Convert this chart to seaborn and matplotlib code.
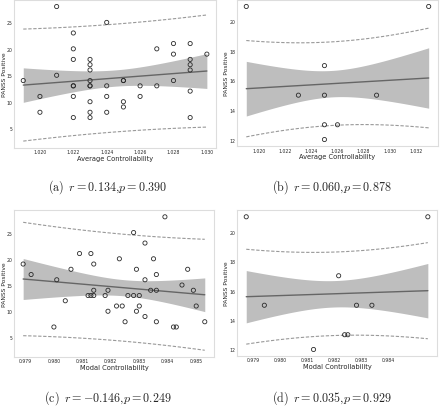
import numpy as np
import pandas as pd
import matplotlib
matplotlib.use("Agg")
import matplotlib.pyplot as plt
import seaborn as sns

# --- data ---
avg_ctrl_all = [1.019,
                1.020, 1.020,
                1.021, 1.021,
                1.022, 1.022, 1.022, 1.022, 1.022, 1.022, 1.022,
                1.023, 1.023, 1.023, 1.023, 1.023, 1.023, 1.023, 1.023, 1.023,
                1.024, 1.024, 1.024, 1.024,
                1.025, 1.025, 1.025, 1.025,
                1.026, 1.026,
                1.027, 1.027,
                1.028, 1.028, 1.028,
                1.029, 1.029, 1.029, 1.029, 1.029, 1.029,
                1.030]
panss_avg_all = [14,
                 11, 8,
                 28, 15,
                 23, 20, 18, 13, 13, 11, 7,
                 18, 17, 16, 14, 13, 13, 10, 8, 7,
                 25, 13, 11, 8,
                 14, 14, 10, 9,
                 13, 11,
                 20, 13,
                 21, 19, 14,
                 21, 18, 17, 16, 12, 7,
                 19]

avg_ctrl_sub = [1.019, 1.033, 1.023, 1.025, 1.025, 1.025, 1.025, 1.026, 1.029]
panss_avg_sub = [21, 21, 15, 17, 15, 13, 12, 13, 15]

modal_ctrl_all = [0.97892, 0.9792, 0.9800, 0.9801, 0.9804, 0.9806, 0.9809,
                  0.9812, 0.9813, 0.9814, 0.9813, 0.9814, 0.9814, 0.9818,
                  0.9819, 0.9819, 0.9822, 0.9823, 0.9824, 0.9825, 0.9826,
                  0.9828, 0.9828, 0.9829, 0.9829, 0.9830, 0.9830, 0.9832,
                  0.9832, 0.9832, 0.9834, 0.9835, 0.9836, 0.9836, 0.9836,
                  0.9839, 0.9842, 0.9843, 0.9845, 0.9847, 0.9849, 0.9850,
                  0.9853]
panss_modal_all = [19, 17, 7, 16, 12, 18, 21,
                   13, 13, 13, 21, 19, 14, 13,
                   14, 10, 11, 20, 11, 8, 13,
                   25, 13, 18, 10, 11, 13, 23,
                   16, 9, 14, 20, 17, 14, 8,
                   28, 7, 7, 15, 18, 14, 11,
                   8]

modal_ctrl_sub = [0.97873, 0.98545, 0.9794, 0.98215, 0.98281, 0.98338,
                  0.98122, 0.98237, 0.98249]
panss_modal_sub = [21, 21, 15, 17, 15, 15, 12, 13, 13]

captions = [r"$\mathrm{(a)}\ \,r = 0.134{,}p = 0.390$",
            r"$\mathrm{(b)}\ \,r = 0.060{,}p = 0.878$",
            r"$\mathrm{(c)}\ \,r = -0.146{,}p = 0.249$",
            r"$\mathrm{(d)}\ \,r = 0.035{,}p = 0.929$"]
xlabels = ["Average Controllability", "Average Controllability",
           "Modal Controllability", "Modal Controllability"]
# interval width multipliers (band and dashed lines)
int_mult = [2.02, 0.76, 2.02, 0.76]

sns.set_style("white")
plt.rcParams["mathtext.fontset"] = "cm"

fig = plt.figure(figsize=(4.4, 4.1), dpi=100)
boxes = [[0.032, 0.637, 0.459, 0.361],
         [0.539, 0.641, 0.456, 0.357],
         [0.032, 0.127, 0.454, 0.358],
         [0.539, 0.129, 0.454, 0.356]]
cap_pos = [(0.245, 0.521), (0.755, 0.521), (0.245, 0.008), (0.755, 0.008)]
ylab_x = [-0.036, -0.043, -0.036, -0.043]
xticks = [[1.020, 1.022, 1.024, 1.026, 1.028, 1.030],
          [1.020, 1.022, 1.024, 1.026, 1.028, 1.030, 1.032],
          [0.979, 0.980, 0.981, 0.982, 0.983, 0.984, 0.985],
          [0.979, 0.980, 0.981, 0.982, 0.983, 0.984]]
yticks = [[5, 10, 15, 20, 25], [12, 14, 16, 18, 20],
          [5, 10, 15, 20, 25], [12, 14, 16, 18, 20]]

panels = [(avg_ctrl_all, panss_avg_all), (avg_ctrl_sub, panss_avg_sub),
          (modal_ctrl_all, panss_modal_all), (modal_ctrl_sub, panss_modal_sub)]

for i, (xs, ys) in enumerate(panels):
    ax = fig.add_axes(boxes[i])
    df = pd.DataFrame({"x": xs, "y": ys})

    # OLS fit, confidence band and prediction interval
    x = np.asarray(xs, float)
    y = np.asarray(ys, float)
    n = len(x)
    b, a = np.polyfit(x, y, 1)
    resid = y - (a + b * x)
    s = np.sqrt(np.sum(resid ** 2) / (n - 2))
    grid = np.linspace(x.min(), x.max(), 100)
    sxx = np.sum((x - x.mean()) ** 2)
    lev = 1 / n + (grid - x.mean()) ** 2 / sxx
    yhat = a + b * grid
    ci_half = int_mult[i] * s * np.sqrt(lev)
    pi_half = int_mult[i] * s * np.sqrt(1 + lev)

    ax.fill_between(grid, yhat - ci_half, yhat + ci_half, color="#a8a8a8",
                    alpha=0.75, lw=0, zorder=1)
    sns.regplot(data=df, x="x", y="y", ax=ax, scatter=False, ci=None,
                color="#666666", line_kws={"lw": 1.0, "zorder": 2})
    ax.plot(grid, yhat + pi_half, ls=(0, (3, 1.5)), color="#999999", lw=0.8)
    ax.plot(grid, yhat - pi_half, ls=(0, (3, 1.5)), color="#999999", lw=0.8)
    sns.scatterplot(data=df, x="x", y="y", ax=ax, s=9, marker="o",
                    facecolors="none", edgecolor="#2a2a2a", linewidth=0.6,
                    zorder=3)

    ax.set_xlabel(xlabels[i], fontsize=4.8, labelpad=0.5)
    ax.set_ylabel("PANSS Positive", fontsize=4.3)
    ax.yaxis.set_label_coords(ylab_x[i], 0.5)
    ax.tick_params(labelsize=3.3, pad=1, length=0)
    ax.set_xticks(xticks[i])
    ax.set_yticks(yticks[i])
    ax.xaxis.set_major_formatter(matplotlib.ticker.FormatStrFormatter("%.3f"))
    for sp in ax.spines.values():
        sp.set_color("#dddddd")
        sp.set_linewidth(0.8)
    fig.text(cap_pos[i][0], cap_pos[i][1], captions[i], ha="center",
             va="bottom", fontsize=8.7)

fig.savefig("out.png", dpi=100)
